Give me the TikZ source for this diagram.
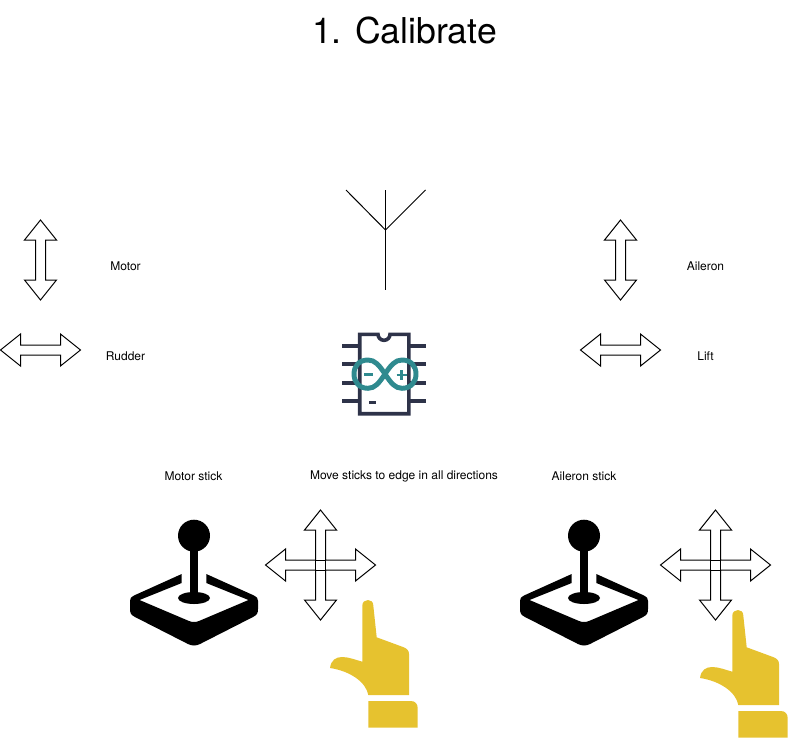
\documentclass[tikz,border=0pt]{standalone}
\usepackage{fontspec}
\setmainfont{TeX Gyre Heros}
\definecolor{chipink}{HTML}{2E3349}
\definecolor{teal1}{HTML}{2F8A8F}
\definecolor{handy}{HTML}{E6C22F}
\tikzset{
  px/.style={x=0.75pt,y=-0.75pt},
  label/.style={inner sep=0pt,font=\fontsize{9}{11}\selectfont},
  titlelabel/.style={inner sep=0pt,font=\fontsize{26.7}{32}\selectfont},
  arrowline/.style={draw=black,fill=white,line width=0.75pt,line join=miter},
  antenna/.style={draw=black,line width=0.75pt},
  chipline/.style={draw=chipink,line width=2.7pt},
  pin/.style={draw=chipink,line width=2.8pt},
  loopline/.style={draw=teal1,line width=3.7pt},
  sign/.style={draw=teal1,line width=2.2pt},
}
\newcommand{\vdouble}[2]{\draw[arrowline,shift={(#1,#2)}] (0,-40)--(16,-20)--(5,-20)--(5,20)--(16,20)--(0,40)--(-16,20)--(-5,20)--(-5,-20)--(-16,-20)--cycle;}
\newcommand{\hdouble}[2]{\draw[arrowline,shift={(#1,#2)}] (-40,0)--(-20,-16)--(-20,-5)--(20,-5)--(20,-16)--(40,0)--(20,16)--(20,5)--(-20,5)--(-20,16)--cycle;}
\newcommand{\crossarrows}[2]{\draw[arrowline,shift={(#1,#2)}]
 (0,-55)--(16,-35)--(5,-35)--(5,-5)--(35,-5)--(35,-16)--(55,0)--(35,16)--(35,5)--(5,5)--(5,35)--(16,35)--(0,55)--(-16,35)--(-5,35)--(-5,5)--(-35,5)--(-35,16)--(-55,0)--(-35,-16)--(-35,-5)--(-5,-5)--(-5,-35)--(-16,-35)--cycle;
 \draw[line width=0.75pt,shift={(#1,#2)}] (-5,-5)--(5,-5)--(5,5)--(-5,5)--cycle;}
\newcommand{\joystick}[1]{\begin{scope}[shift={(#1,0)}]
 \fill[black] (0,535.7) circle[radius=16];
 \fill[black] (-4.3,540) rectangle (4.3,598);
 \fill[black] (0,598) ellipse[x radius=16,y radius=6];
 \fill[black] (-12.3,574)--(-60,595.5) .. controls (-63,597) and (-64,598) .. (-64,601)
  --(-64,609) .. controls (-64,613) and (-63,615) .. (-59,617)
  --(-6,644) .. controls (-2,646) and (2,646) .. (6,644)
  --(59,617) .. controls (63,615) and (64,613) .. (64,609)
  --(64,601) .. controls (64,598) and (63,597) .. (60,595.5)
  --(12.3,574)--(12.3,583)--(54.5,600)--(5,621) .. controls (2,622.3) and (-2,622.3) .. (-5,621)
  --(-54.5,600)--(-12.3,583)--cycle;
\end{scope}}
\newcommand{\hand}[2]{\begin{scope}[shift={(#1,#2)}]
 \fill[handy] (362.3,605.5) .. controls (362.3,602) and (365,600) .. (368,600)
  .. controls (371,600) and (373.3,602) .. (373.3,605.5)
  --(376.7,637.3)--(403,647) .. controls (407,648.5) and (409,650.5) .. (409,654)
  --(409,695)--(368.3,695) .. controls (366,682) and (350,671) .. (330,668)
  .. controls (331,660) and (336,657) .. (342,657)
  .. controls (349,657) and (356,660) .. (362.3,661.7)--cycle;
 \fill[handy] (368.3,701)--(411,701) .. controls (415,701) and (417.7,704) .. (417.7,708)
  --(417.7,727.7)--(368.3,727.7)--cycle;
\end{scope}}
\begin{document}
\begin{tikzpicture}[px]
\useasboundingbox (0,0) rectangle (809,739);
\node[titlelabel] (title) at (404.5,31) {1. Calibrate};
% double arrows
\vdouble{40.5}{260}
\hdouble{40.5}{350}
\vdouble{620.5}{260}
\hdouble{620.5}{350}
\node[label] (motor) at (125.5,266) {Motor};
\node[label] (rudder) at (125.5,356) {Rudder};
\node[label] (aileron) at (705.5,266) {Aileron};
\node[label] (lift) at (705.5,356) {Lift};
\node[label] (motorstick) at (193.5,476) {Motor stick};
\node[label] (move) at (404,476.6) {Move sticks to edge in all directions};
\node[label] (aileronstick) at (584,476) {Aileron stick};
% antenna
\draw[antenna] (385.5,190)--(385.5,290);
\draw[antenna] (346,190)--(385.5,230)--(425.5,190);
% chip
\draw[pin] (342,346)--(358,346) (342,364.3)--(358,364.3) (342,382.7)--(358,382.7) (342,401.3)--(358,401.3);
\draw[pin] (410,346)--(426,346) (410,364.3)--(426,364.3) (410,382.7)--(426,382.7) (410,401.3)--(426,401.3);
\draw[chipline,fill=white] (359.7,334.3) -- (378,334.3) arc[start angle=180,end angle=0,radius=6] -- (408.8,334.3) -- (408.8,413.7) -- (359.7,413.7) -- cycle;
\fill[chipink] (368.5,400.5) rectangle (375.5,404);
\draw[loopline] (385,374) .. controls (379,365) and (375,360) .. (368,360)
  .. controls (359,360) and (354,366) .. (354,374)
  .. controls (354,382) and (359,388.3) .. (368,388.3)
  .. controls (375,388.3) and (379,383) .. (385,374)
  .. controls (391,365) and (395,360) .. (402,360)
  .. controls (411,360) and (416,366) .. (416,374)
  .. controls (416,382) and (411,388.3) .. (402,388.3)
  .. controls (395,388.3) and (391,383) .. (385,374) -- cycle;
\draw[sign] (364,374.5)--(373,374.5);
\draw[sign] (396.5,375)--(407,375) (401.7,370)--(401.7,380);
% joysticks and arrows
\joystick{194}
\joystick{584}
\crossarrows{320.5}{565}
\crossarrows{715.5}{565}
\hand{0}{0}
\hand{370}{10}
\end{tikzpicture}
\end{document}
